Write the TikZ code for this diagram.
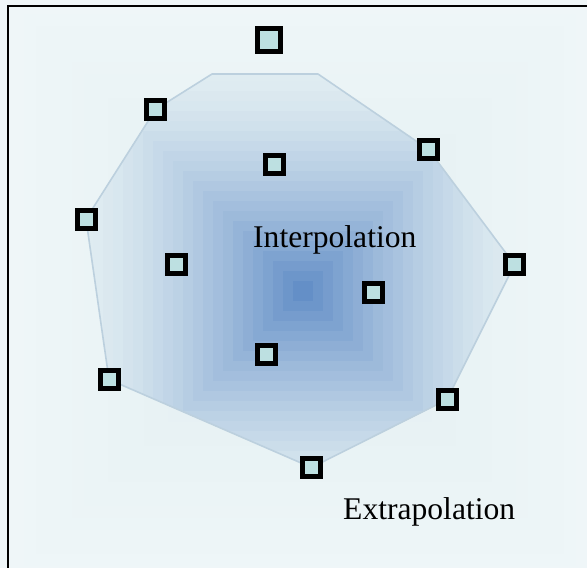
\documentclass[tikz,border=0pt]{standalone}
\usepackage{fontspec}
\setmainfont{Liberation Serif}
\definecolor{innerblue}{HTML}{648FC7}
\definecolor{edgeblue}{HTML}{E2EEF2}
\definecolor{bgin}{HTML}{E1EEF0}
\definecolor{bgout}{HTML}{F2F8FA}
\definecolor{ptfill}{HTML}{BDE0E1}
\definecolor{hullline}{HTML}{BCD0DE}
\begin{document}
\begin{tikzpicture}[x=1pt,y=-1pt,
  pt/.style={draw=black,fill=ptfill,line width=5pt,inner sep=0pt,minimum size=18pt,rectangle},
  bigpt/.style={pt,minimum size=23pt},
  lbl/.style={anchor=base west,inner sep=0pt,font=\fontsize{31.6}{36}\selectfont},
  hull/.style={draw=hullline,line width=1.6pt,line join=round}]
\useasboundingbox (0,0) rectangle (587,568);
% background rectangular gradient
\begin{scope}[overlay]
  \clip (0,0) rectangle (587,568);
  \foreach \i in {30,...,1}{
    \pgfmathtruncatemacro{\p}{(30-\i)*100/29}
    \fill[bgin!\p!bgout] (300-\i*12,290-\i*12) rectangle (300+\i*12,290+\i*12);
  }
\end{scope}
% point coordinates
\coordinate (c1) at (268.5,40);
\coordinate (c2) at (155.5,109.5);
\coordinate (c3) at (428.5,149.5);
\coordinate (c4) at (274,164.5);
\coordinate (c5) at (86,219);
\coordinate (c6) at (176,264.5);
\coordinate (c7) at (514.5,264.5);
\coordinate (c8) at (373.5,292);
\coordinate (c9) at (266.5,354.5);
\coordinate (c10) at (109,379.5);
\coordinate (c11) at (447,399.5);
\coordinate (c12) at (311.5,467.5);
\coordinate (t1) at (212,74);
\coordinate (t2) at (318,74);
% hull interior gradient
\begin{scope}
  \clip (t1) -- (t2) -- (c3) -- (c7) -- (c11) -- (c12) -- (c10) -- (c5) -- (c2) -- cycle;
  \foreach \i in {24,...,1}{
    \pgfmathtruncatemacro{\p}{100*((24-\i)/23)^1.6}
    \fill[innerblue!\p!edgeblue] (303-\i*10,291-\i*10) rectangle (303+\i*10,291+\i*10);
  }
\end{scope}
\draw[hull] (t1) -- (t2) -- (c3) -- (c7) -- (c11) -- (c12) -- (c10) -- (c5) -- (c2) -- cycle;
% frame
\draw[line width=2pt] (8,568) -- (8,5.5) -- (587,5.5);
% points
\node[bigpt] (s1) at (c1) {};
\foreach \k in {2,...,12}{ \node[pt] (s\k) at (c\k) {}; }
% labels
\node[lbl] (interp) at (253,247) {Interpolation};
\node[lbl] (extrap) at (343,519) {Extrapolation};
\end{tikzpicture}
\end{document}
